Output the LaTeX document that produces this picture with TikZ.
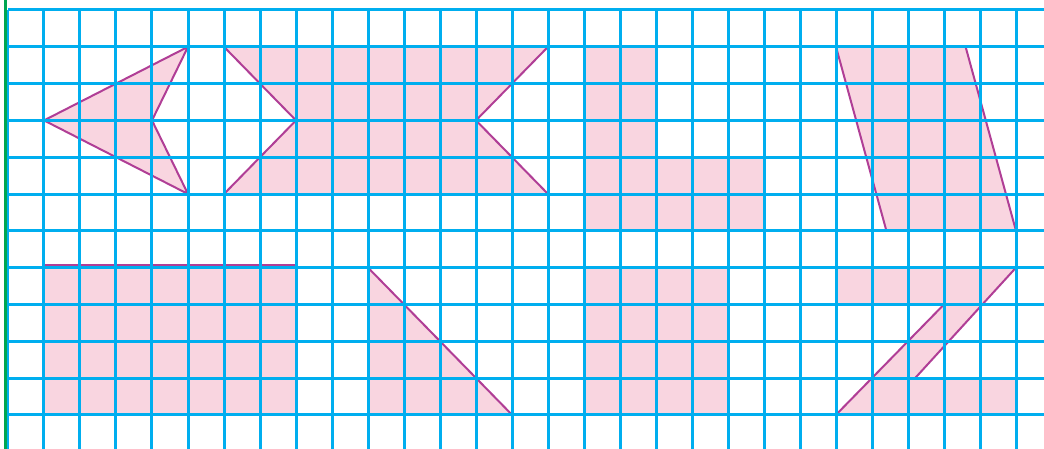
\documentclass[tikz,border=0pt]{standalone}
\usepackage{tikz}
\definecolor{gridblue}{RGB}{0,174,239}
\definecolor{shapefill}{RGB}{249,213,224}
\definecolor{shapeline}{RGB}{176,62,150}
\definecolor{marginline}{RGB}{0,166,81}

\begin{document}
\begin{tikzpicture}[x=18pt,y=-18.4pt,
  figure/.style={fill=shapefill,draw=shapeline,line width=1pt},
  gridline/.style={draw=gridblue,line width=1.5pt}]
\useasboundingbox (-1.2222,-0.2717) rectangle (27.7778,11.9293);

% top row
\draw[figure] (0,3) -- (4,1) -- (3,3) -- (4,5) -- cycle;
\draw[figure] (5,1) -- (14,1) -- (12,3) -- (14,5) -- (5,5) -- (7,3) -- cycle;
\draw[figure] (15,1) -- (17,1) -- (17,4) -- (20,4) -- (20,6) -- (15,6) -- cycle;
\draw[figure] (22,1) -- (25.6,1) -- (27,6) -- (23.4,6) -- cycle;

% bottom row
\draw[figure] (0,6.92) rectangle (7,11);
\draw[figure] (9,7) -- (13,11) -- (9,11) -- cycle;
\draw[figure] (15,7) rectangle (19,11);
\draw[figure] (22,7) -- (27,7) -- (24.2,10) -- (27,10) -- (27,11)
  -- (22,11) -- (25,8) -- (22,8) -- cycle;

% squared paper
\foreach \r in {0,...,11}
  \draw[gridline] (-1,\r) -- (27.78,\r);
\foreach \c in {-1,...,27}
  \draw[gridline] (\c,0) -- (\c,11.93);
\draw[marginline,line width=1.5pt] (-1.069,-0.2717) -- (-1.069,11.9293);
\end{tikzpicture}
\end{document}
